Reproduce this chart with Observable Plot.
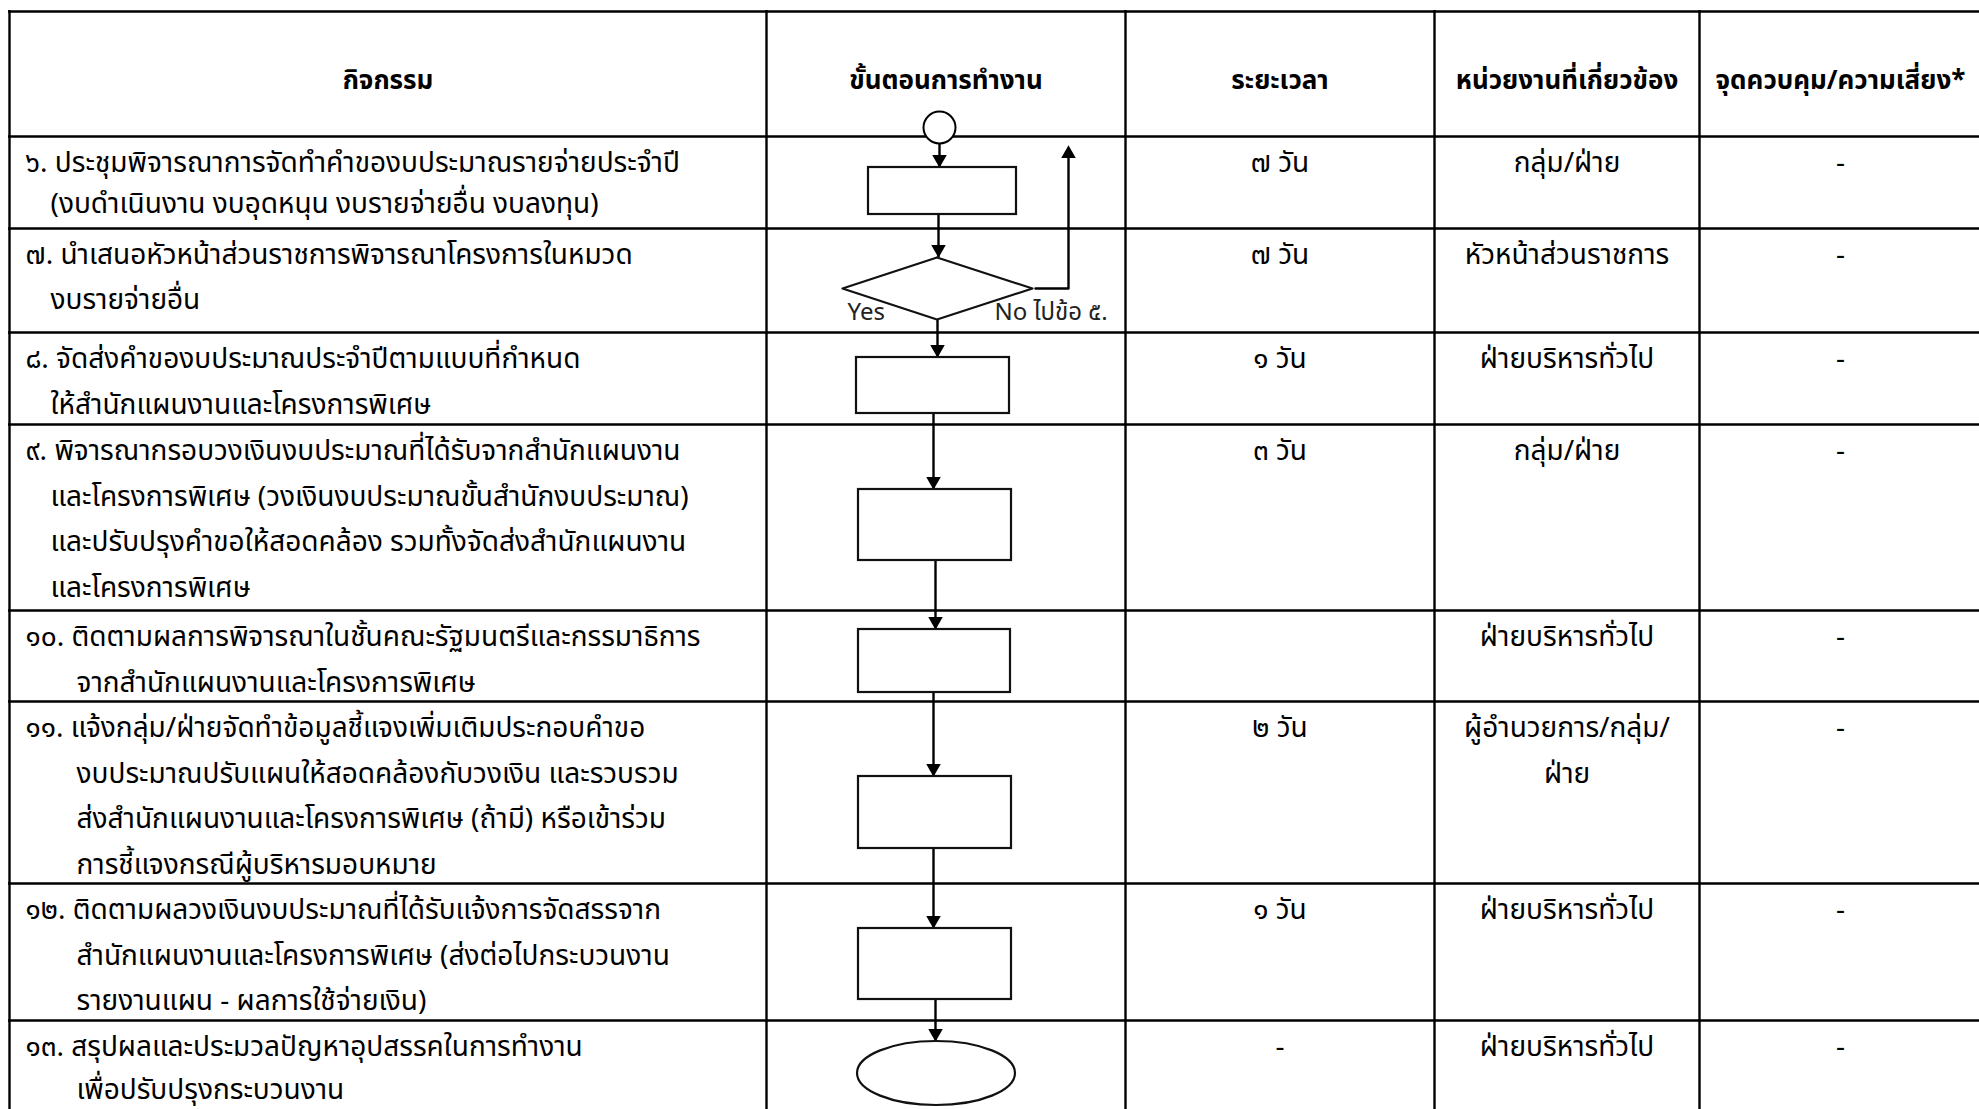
<!DOCTYPE html>
<html><head><meta charset="utf-8">
<script src="https://cdn.jsdelivr.net/npm/d3@7"></script>
<script src="https://cdn.jsdelivr.net/npm/@observablehq/plot@0.6"></script>
<style>html,body{margin:0;padding:0;background:#fff;overflow:hidden}</style>
</head><body><div id="chart"></div>
<script>
// ---------- DATA ----------
const headers = ["กิจกรรม", "ขั้นตอนการทำงาน", "ระยะเวลา", "หน่วยงานที่เกี่ยวข้อง", "จุดควบคุม/ความเสี่ยง*"];
const activities = [
  ["๖. ประชุมพิจารณาการจัดทำคำของบประมาณรายจ่ายประจำปี", "(งบดำเนินงาน งบอุดหนุน งบรายจ่ายอื่น งบลงทุน)"],
  ["๗. นำเสนอหัวหน้าส่วนราชการพิจารณาโครงการในหมวด", "งบรายจ่ายอื่น"],
  ["๘. จัดส่งคำของบประมาณประจำปีตามแบบที่กำหนด", "ให้สำนักแผนงานและโครงการพิเศษ"],
  ["๙. พิจารณากรอบวงเงินงบประมาณที่ได้รับจากสำนักแผนงาน", "และโครงการพิเศษ (วงเงินงบประมาณขั้นสำนักงบประมาณ)", "และปรับปรุงคำขอให้สอดคล้อง รวมทั้งจัดส่งสำนักแผนงาน", "และโครงการพิเศษ"],
  ["๑๐. ติดตามผลการพิจารณาในชั้นคณะรัฐมนตรีและกรรมาธิการ", "จากสำนักแผนงานและโครงการพิเศษ"],
  ["๑๑. แจ้งกลุ่ม/ฝ่ายจัดทำข้อมูลชี้แจงเพิ่มเติมประกอบคำขอ", "งบประมาณปรับแผนให้สอดคล้องกับวงเงิน และรวบรวม", "ส่งสำนักแผนงานและโครงการพิเศษ (ถ้ามี) หรือเข้าร่วม", "การชี้แจงกรณีผู้บริหารมอบหมาย"],
  ["๑๒. ติดตามผลวงเงินงบประมาณที่ได้รับแจ้งการจัดสรรจาก", "สำนักแผนงานและโครงการพิเศษ (ส่งต่อไปกระบวนงาน", "รายงานแผน - ผลการใช้จ่ายเงิน)"],
  ["๑๓. สรุปผลและประมวลปัญหาอุปสรรคในการทำงาน", "เพื่อปรับปรุงกระบวนงาน"]
];
const durations = ["๗ วัน", "๗ วัน", "๑ วัน", "๓ วัน", "", "๒ วัน", "๑ วัน", "-"];
const units = [["กลุ่ม/ฝ่าย"], ["หัวหน้าส่วนราชการ"], ["ฝ่ายบริหารทั่วไป"], ["กลุ่ม/ฝ่าย"], ["ฝ่ายบริหารทั่วไป"], ["ผู้อำนวยการ/กลุ่ม/", "ฝ่าย"], ["ฝ่ายบริหารทั่วไป"], ["ฝ่ายบริหารทั่วไป"]];
const controls = ["-", "-", "-", "-", "-", "-", "-", "-"];
const steps = ["process", "decision", "process", "process", "process", "process", "process", "terminal"];
const branchLabels = ["Yes", "No ไปข้อ ๕."];

// ---------- LAYOUT ----------
const W = 1979, H = 1109;
const FONT = '"Noto Sans Thai", "Noto Sans Thai UI", Loma, Garuda, "Noto Sans", sans-serif';
const FS = 28, FS_HEAD = 26, FS_LABEL = 24;
const colEdges = [9, 766, 1125, 1434, 1699, 1981];
const rowEdges = [11, 136, 228, 332, 424, 610, 701, 883, 1020, 1160];
const lineGap = [41, 45, 45.5, 45.5, 45.5, 45.5, 45.5, 43];
const FIRST = 27;
const colMid = i => (colEdges[i] + colEdges[i + 1]) / 2;
const rowTop = i => rowEdges[i + 1];
// flow shapes geometry per step (x1,x2,y1,y2)
const shapeGeom = [
  [868, 1016, 167, 214],
  [842, 1032, 257, 319],
  [856, 1009, 357, 413],
  [858, 1011, 489, 560],
  [858, 1010, 629, 692],
  [858, 1011, 776, 848],
  [858, 1011, 928, 999],
  [857, 1015, 1041, 1105]
];
const startCircle = {x: 939, y: 127, r: 16};
const flowX = [939, 938, 937, 933, 935, 933, 933, 935];

// ---------- DERIVED TABLES ----------
const hLines = rowEdges.slice(0, 9);
const vLines = colEdges;

const headerTexts = headers.map((t, i) => ({t, x: colMid(i), y: 80}));
const activityTexts = activities.flatMap((lines, r) => {
  const indent = lines[0].indexOf(".") > 1 ? 76 : 50;
  return lines.map((t, k) => ({t, x: k === 0 ? 25 : indent, y: rowTop(r) + FIRST + k * lineGap[r]}));
});
const durationTexts = durations.map((t, r) => ({t, x: colMid(2), y: rowTop(r) + FIRST}));
const unitTexts = units.flatMap((lines, r) => lines.map((t, k) => ({t, x: colMid(3), y: rowTop(r) + FIRST + k * lineGap[r]})));
const controlTexts = controls.map((t, r) => ({t, x: colMid(4), y: rowTop(r) + FIRST}));

const boxes = steps.map((s, i) => ({s, g: shapeGeom[i]})).filter(d => d.s === "process");
const diamonds = steps.map((s, i) => ({s, g: shapeGeom[i]})).filter(d => d.s === "decision");
const terminals = steps.map((s, i) => ({s, g: shapeGeom[i]})).filter(d => d.s === "terminal");
const diamondPts = diamonds.flatMap(({g}, k) => {
  const cx = (g[0] + g[1]) / 2 - 0.5, cy = (g[2] + g[3]) / 2;
  return [[cx, g[2]], [g[1], cy], [cx, g[3]], [g[0], cy], [cx, g[2]]].map(([x, y]) => ({x, y, k}));
});

// connectors: from start circle to step 0, then step i to step i+1
const links = [];
links.push({x1: flowX[0], y1: startCircle.y + startCircle.r, x2: flowX[0], y2: shapeGeom[0][2]});
for (let i = 0; i < steps.length - 1; i++) {
  links.push({x1: flowX[i + 1], y1: shapeGeom[i][3], x2: flowX[i + 1], y2: shapeGeom[i + 1][2]});
}
const AH = 8.2;
const heads = links.map(d => ({x: d.x2, y: d.y2 - AH, rot: 180}));
// "No" branch back up
const dg = shapeGeom[1];
const dcy = (dg[2] + dg[3]) / 2;
const noPath = [{x: dg[1] + 3, y: dcy}, {x: 1068, y: dcy}, {x: 1068, y: 152}];
heads.push({x: 1068, y: 145 + AH, rot: 0});

const labels = [
  {t: branchLabels[0], x: 847, y: 312},
  {t: branchLabels[1], x: 994, y: 312}
];

const chart = Plot.plot({
  width: W, height: H, margin: 0,
  x: {domain: [0, W], range: [0, W], axis: null},
  y: {domain: [0, H], range: [0, H], axis: null},
  style: {fontFamily: FONT, background: "#fff", color: "#000"},
  marks: [
    // table grid
    Plot.ruleY(hLines, {y: d => d, x1: () => colEdges[0] - 1, x2: () => W + 5, stroke: "#000", strokeWidth: 2.4}),
    Plot.ruleX(vLines, {x: d => d, y1: () => rowEdges[0] - 1, y2: () => H + 5, stroke: "#000", strokeWidth: 2.4}),
    // connectors
    Plot.link(links, {x1: "x1", y1: "y1", x2: "x2", y2: "y2", stroke: "#000", strokeWidth: 2.4}),
    Plot.line(noPath, {x: "x", y: "y", stroke: "#000", strokeWidth: 2.4, curve: "linear"}),
    Plot.dot(heads, {x: "x", y: "y", rotate: "rot", symbol: "triangle", r: 5.4, fill: "#000", stroke: "none"}),
    // shapes
    Plot.dot([startCircle], {x: "x", y: "y", r: startCircle.r, fill: "#fff", stroke: "#000", strokeWidth: 2}),
    Plot.rect(boxes, {x1: d => d.g[0], x2: d => d.g[1], y1: d => d.g[2], y2: d => d.g[3], fill: "#fff", stroke: "#111", strokeWidth: 2.2, inset: 0}),
    Plot.line(diamondPts, {x: "x", y: "y", z: "k", fill: "#fff", stroke: "#111", strokeWidth: 2.2}),
    Plot.rect(terminals, {x1: d => d.g[0], x2: d => d.g[1], y1: d => d.g[2], y2: d => d.g[3], rx: 79, ry: 32, fill: "#fff", stroke: "#111", strokeWidth: 2.2, inset: 0}),
    // texts
    Plot.text(headerTexts, {x: "x", y: "y", text: "t", fontSize: FS_HEAD, fontWeight: "bold", fill: "#000"}),
    Plot.text(activityTexts, {x: "x", y: "y", text: "t", textAnchor: "start", fontSize: FS, fill: "#000"}),
    Plot.text(durationTexts, {x: "x", y: "y", text: "t", fontSize: FS, fill: "#000"}),
    Plot.text(unitTexts, {x: "x", y: "y", text: "t", fontSize: FS, fill: "#000"}),
    Plot.text(controlTexts, {x: "x", y: "y", text: "t", fontSize: FS, fill: "#000"}),
    Plot.text(labels, {x: "x", y: "y", text: "t", textAnchor: "start", fontSize: FS_LABEL, fill: "#222"})
  ]
});
document.getElementById("chart").appendChild(chart);
</script>
</body></html>
